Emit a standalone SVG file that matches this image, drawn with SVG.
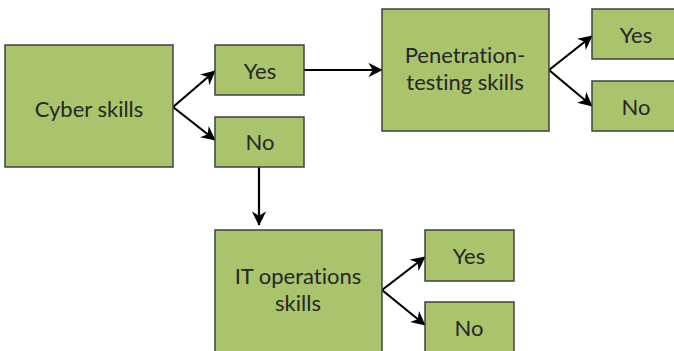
<svg xmlns="http://www.w3.org/2000/svg" width="674" height="351" viewBox="0 0 674 351">
<defs>
<marker id="ah" viewBox="0 0 10 10" refX="9.5" refY="5" markerWidth="6.5" markerHeight="6.5" orient="auto" markerUnits="strokeWidth">
<path d="M0,0 L10,5 L0,10 L3,5 Z" fill="#000"/>
</marker>
<style>
.box{fill:#A9C46C;stroke:#404040;stroke-width:1.5}
.t{font-family:Lato,"Open Sans","Liberation Sans",sans-serif;font-size:22px;fill:#262626;text-anchor:middle;font-variant-ligatures:none;font-feature-settings:"liga" 0,"dlig" 0}
.c{stroke:#000;stroke-width:2.2;fill:none;marker-end:url(#ah)}
</style>
</defs>
<rect width="674" height="351" fill="#fff"/>
<g id="connectors">
<path class="c" d="M173,107 L215,71"/>
<path class="c" d="M173,107 L215,140"/>
<path class="c" d="M304,70 L382,70"/>
<path class="c" d="M549,70 L592,36"/>
<path class="c" d="M549,70 L592,106"/>
<path class="c" d="M259,160 L259,225"/>
<path class="c" d="M382,290 L425,257"/>
<path class="c" d="M382,290 L425,325"/>
</g>
<g id="cyber"><rect class="box" x="5" y="45" width="168" height="122"/><text class="t" x="89" y="117">Cyber skills</text></g>
<g id="yes1"><rect class="box" x="215" y="45" width="89" height="50"/><text class="t" x="260" y="79">Yes</text></g>
<g id="no1"><rect class="box" x="215" y="117" width="89" height="50"/><text class="t" x="260" y="150">No</text></g>
<g id="pen"><rect class="box" x="382" y="9" width="167" height="122"/><text class="t" x="465" y="63">Penetration-<tspan x="465" dy="26.5">testing skills</tspan></text></g>
<g id="yes2"><rect class="box" x="592" y="9" width="89" height="50"/><text class="t" x="636" y="43">Yes</text></g>
<g id="no2"><rect class="box" x="592" y="81" width="89" height="50"/><text class="t" x="636" y="115">No</text></g>
<g id="it"><rect class="box" x="215" y="230" width="167" height="130"/><text class="t" x="298" y="284">IT operations<tspan x="298" dy="26.5">skills</tspan></text></g>
<g id="yes3"><rect class="box" x="425" y="230" width="89" height="51"/><text class="t" x="469" y="264">Yes</text></g>
<g id="no3"><rect class="box" x="425" y="302" width="89" height="60"/><text class="t" x="469" y="336">No</text></g>
</svg>
